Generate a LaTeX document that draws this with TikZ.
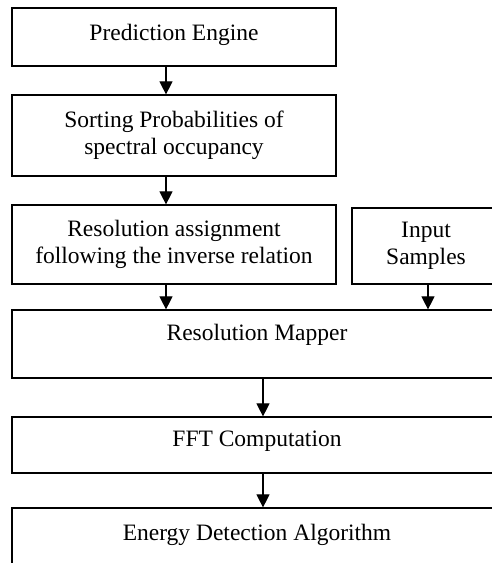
\documentclass[tikz,border=0pt]{standalone}
\usepackage{fontspec}
\setmainfont{Liberation Serif}
\usepackage{tikz}
\usetikzlibrary{arrows.meta}

\begin{document}
\begin{tikzpicture}[
    x=1pt, y=-1pt,
    box/.style={draw, line width=1.2pt, inner sep=0pt, align=center, font=\fontsize{23.5}{26.5}\selectfont},
    arrow/.style={-{Triangle[length=13pt,width=13pt]}, line width=1.1pt}
]
\useasboundingbox (0,0) rectangle (492,563);
\clip (0,0) rectangle (492,563);

% left column
\node[box, minimum width=324, minimum height=58, text depth=9pt] (pe) at (174,37) {Prediction Engine};
\node[box, minimum width=324, minimum height=81] (sp) at (174,135.5) {Sorting Probabilities of\\spectral occupancy};
\node[box, minimum width=324, minimum height=79] (ra) at (174,244.5) {Resolution assignment\\following the inverse relation};
\node[box, minimum width=148, minimum height=76] (is) at (426,246) {Input\\Samples};

% wide boxes
\node[box, minimum width=490, minimum height=68, text depth=23.7pt] (rm) at (257,344) {Resolution Mapper};
\node[box, minimum width=490, minimum height=56, text depth=12pt] (fft) at (257,445) {FFT Computation};
\node[box, minimum width=490, minimum height=70, text depth=21.7pt] (ed) at (257,543) {Energy Detection Algorithm};

% arrows
\draw[arrow] ([xshift=-8pt]pe.south) -- ([xshift=-8pt]sp.north);
\draw[arrow] ([xshift=-8pt]sp.south) -- ([xshift=-8pt]ra.north);
\draw[arrow] ([xshift=-8pt]ra.south) -- ([xshift=-8pt]ra.south |- rm.north);
\draw[arrow] ([xshift=2pt]is.south) -- ([xshift=2pt]is.south |- rm.north);
\draw[arrow] ([xshift=6pt]rm.south) -- ([xshift=6pt]fft.north);
\draw[arrow] ([xshift=6pt]fft.south) -- ([xshift=6pt]ed.north);

\end{tikzpicture}
\end{document}
